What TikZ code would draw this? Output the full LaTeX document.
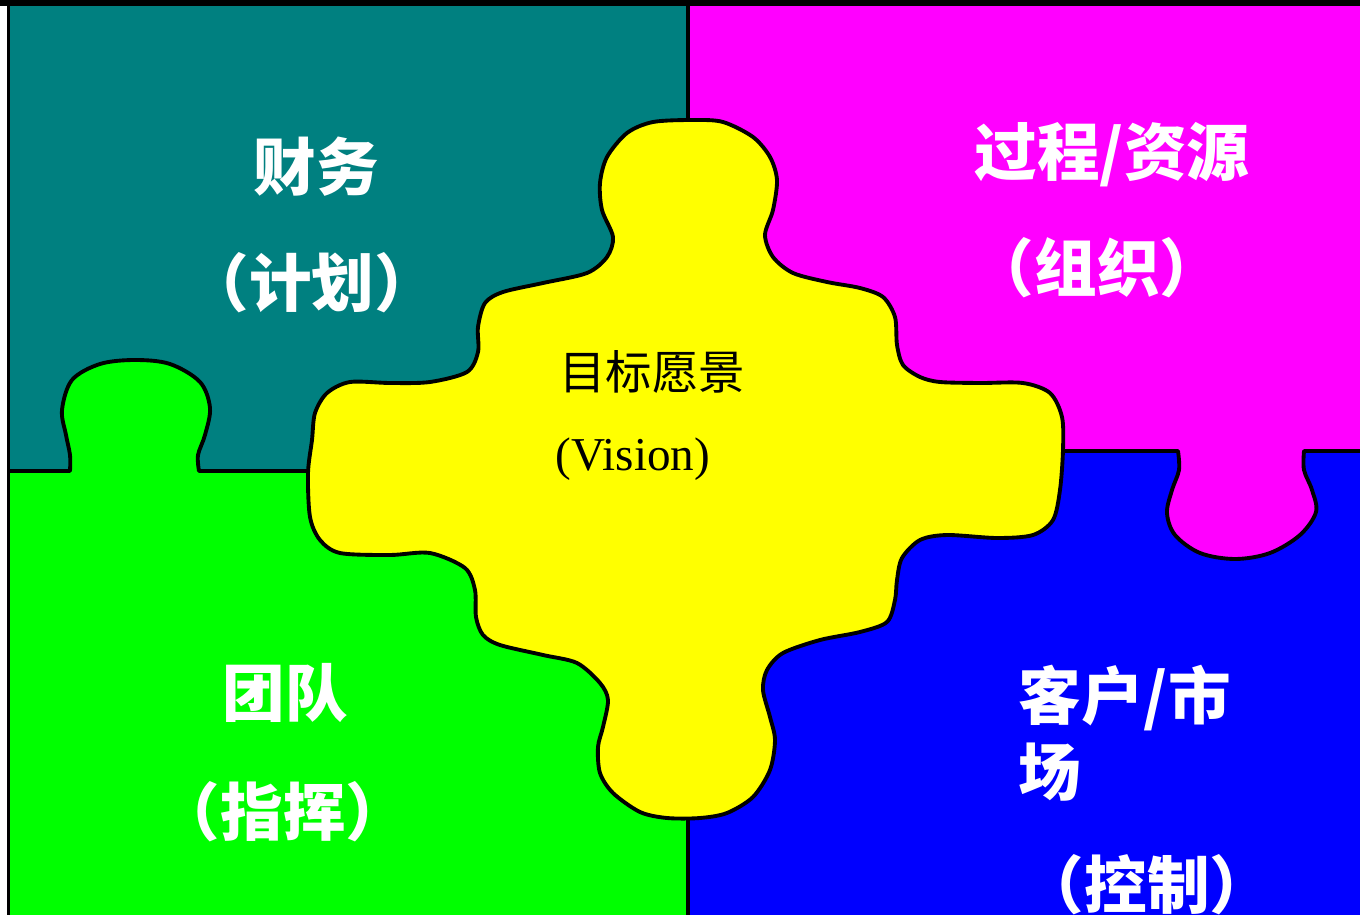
\documentclass[tikz,border=0pt]{standalone}
\usepackage{fontspec}
\setmainfont{Liberation Serif}
\newfontfamily\cjk{Noto Sans CJK SC}
\definecolor{pteal}{HTML}{008080}
\definecolor{pmag}{HTML}{FF00FF}
\definecolor{pgreen}{HTML}{00FF00}
\definecolor{pblue}{HTML}{0000FF}
\definecolor{pyellow}{HTML}{FFFF00}
\tikzset{
  edge/.style={draw=black, line width=1.1pt, line join=round},
  wlab/.style={text=white, inner sep=0pt, font=\cjk\bfseries\fontsize{17.8}{21.5}\selectfont},
  blab/.style={text=black, inner sep=0pt, font=\cjk\fontsize{13.2}{16}\selectfont},
  vlab/.style={text=black, inner sep=0pt, font=\fontsize{13.4}{16}\selectfont}
}
\begin{document}
\begin{tikzpicture}[x=0.01cm, y=-0.01cm]
\useasboundingbox (0,0) rectangle (1360,915);
\fill[white] (0,0) rectangle (1360,915);
% panels
\fill[pteal] (10,6) rectangle (688,471);
\fill[pmag] (688,6) rectangle (1360,451);
\fill[pgreen] (10,471) rectangle (688,915);
\fill[pblue] (688,451) rectangle (1360,915);
% green knob into teal
\fill[pgreen] plot[smooth, tension=0.55] coordinates {(70,472) (70,455) (66,435) (62,410) (72,380) (100,364) (135,360) (170,364) (200,382) (210,408) (205,435) (198,455) (199,472)} -- cycle;
% magenta knob into blue
\fill[pmag] plot[smooth, tension=0.55] coordinates {(1178,450) (1179,470) (1172,490) (1167,513) (1175,535) (1200,553) (1235,559) (1270,553) (1300,535) (1316,512) (1312,490) (1304,470) (1304,450)} -- cycle;
% boundaries
\draw[edge] (10,471) -- (70,471) -- plot[smooth, tension=0.55] coordinates {(70,471) (70,455) (66,435) (62,410) (72,380) (100,364) (135,360) (170,364) (200,382) (210,408) (205,435) (198,455) (199,471)} -- (330,471);
\draw[edge] (1040,451) -- (1178,451) -- plot[smooth, tension=0.55] coordinates {(1178,451) (1179,470) (1172,490) (1167,513) (1175,535) (1200,553) (1235,559) (1270,553) (1300,535) (1316,512) (1312,490) (1304,470) (1304,451)} -- (1360,451);
\draw[edge] (688,6) -- (688,915);
% outer frame
\fill[black] (0,0) rectangle (1360,6);
\fill[black] (7,0) rectangle (10,915);
% yellow centre piece
\filldraw[fill=pyellow, edge] plot[smooth cycle, tension=0.5] coordinates {
(693,120) (723,122) (753,137) (770,157) (777,180) (773,210) (765,235) (773,257) (793,273) (827,282) (860,288) (883,297) (895,317) (897,345) (903,365) (920,377) (940,382) (980,383) (1023,383) (1050,393) (1062,417) (1063,450) (1060,490) (1053,520) (1033,535) (997,538) (947,535) (920,540) (902,558) (897,580) (895,600) (887,622) (860,632) (820,640) (783,653) (767,670) (763,690) (770,717) (775,740) (770,770) (753,797) (727,813) (700,818) (667,818) (640,812) (613,793) (600,773) (598,747) (603,727) (608,700) (600,683) (577,663) (543,655) (500,645) (483,635) (476,617) (475,590) (465,568) (430,553) (390,555) (340,553) (320,540) (310,517) (308,473) (312,440) (315,413) (327,393) (350,382) (390,383) (430,382) (467,372) (478,352) (478,327) (485,303) (503,292) (543,283) (587,273) (607,257) (613,237) (602,210) (600,183) (607,157) (627,133) (653,122)};
% labels
\node[wlab] (cw) at (316,167) {财务};
\node[wlab] (jh) at (312,283) {（计划）};
\node[wlab] (gc) at (1112,155) {过程/资源};
\node[wlab] (zz) at (1097,268) {（组织）};
\node[wlab] (td) at (285,693) {团队};
\node[wlab] (zh) at (283,812) {（指挥）};
\node[wlab, anchor=west, align=left] (kh) at (1018,733) {客户/市\\场};
\node[wlab] (kz) at (1147,885) {（控制）};
\node[blab] (mb) at (652,372) {目标愿景};
\node[vlab] (vs) at (633,459) {(Vision)};
\end{tikzpicture}
\end{document}
